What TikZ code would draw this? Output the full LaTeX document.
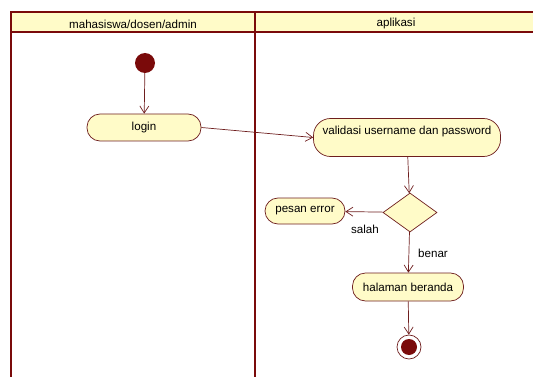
\documentclass[tikz,border=0pt]{standalone}
\usepackage{fontspec}
\setmainfont{Liberation Sans}
\usetikzlibrary{shapes.geometric,arrows.meta}
\definecolor{umlred}{HTML}{7A0A0A}
\definecolor{umlfill}{HTML}{FFFBC8}
\definecolor{umlline}{HTML}{6E1E1E}
\tikzset{
  lane/.style={draw=umlred, line width=2.2pt},
  action/.style={draw=umlline, fill=umlfill, rounded corners=13pt, line width=0.7pt,
    minimum height=27pt, inner sep=0pt, font=\fontsize{11.6}{13}\selectfont},
  decision/.style={draw=umlline, fill=umlfill, diamond, line width=0.7pt,
    minimum width=54pt, minimum height=39pt, inner sep=0pt},
  flow/.style={draw=umlline, line width=0.7pt, -{Straight Barb[length=7pt,width=9pt]}},
  guard/.style={font=\fontsize{11.6}{13}\selectfont}
}
\begin{document}
\begin{tikzpicture}[x=1pt,y=-1pt]
\useasboundingbox (0,0) rectangle (533,377);
% swimlane header
\fill[umlfill] (11,12) rectangle (540,32);
\draw[lane] (540,12) -- (11,12) -- (11,385);
\draw[lane] (11,32) -- (540,32);
\draw[draw=umlred, line width=2.8pt] (255,12) -- (255,385);
\node[guard] (laneA) at (133,24) {mahasiswa/dosen/admin};
\node[guard] (laneB) at (396,24) {aplikasi};
% nodes
\node[circle, fill=umlred, minimum size=20pt, inner sep=0pt] (start) at (145,63) {};
\node[action, minimum width=114pt] (login) at (144,127.5) {login};
\node[action, minimum width=187pt, minimum height=38pt, rounded corners=17pt,
  label={[guard, yshift=6pt]center:validasi username dan password}] (valid) at (407,137.5) {};
\node[decision] (dec) at (410,212.5) {};
\node[action, minimum width=80pt, minimum height=26pt] (err) at (305,211) {pesan error};
\node[action, minimum width=111pt, minimum height=28pt] (home) at (408,287) {halaman beranda};
\node[circle, draw=umlline, fill=white, line width=0.7pt, minimum size=24pt, inner sep=0pt] (stop) at (409,347) {};
\node[circle, fill=umlred, minimum size=16pt, inner sep=0pt] (stopdot) at (stop.center) {};
% flows
\draw[flow] (start) -- (login);
\draw[flow] (login.east) -- (valid.west);
\draw[flow] (valid) -- (dec);
\draw[flow] (dec) -- (err);
\draw[flow] (dec) -- (home);
\draw[flow] (home) -- (stop);
% guards
\node[guard] (salah) at (365,229) {salah};
\node[guard] (benar) at (433,253) {benar};
\end{tikzpicture}
\end{document}
